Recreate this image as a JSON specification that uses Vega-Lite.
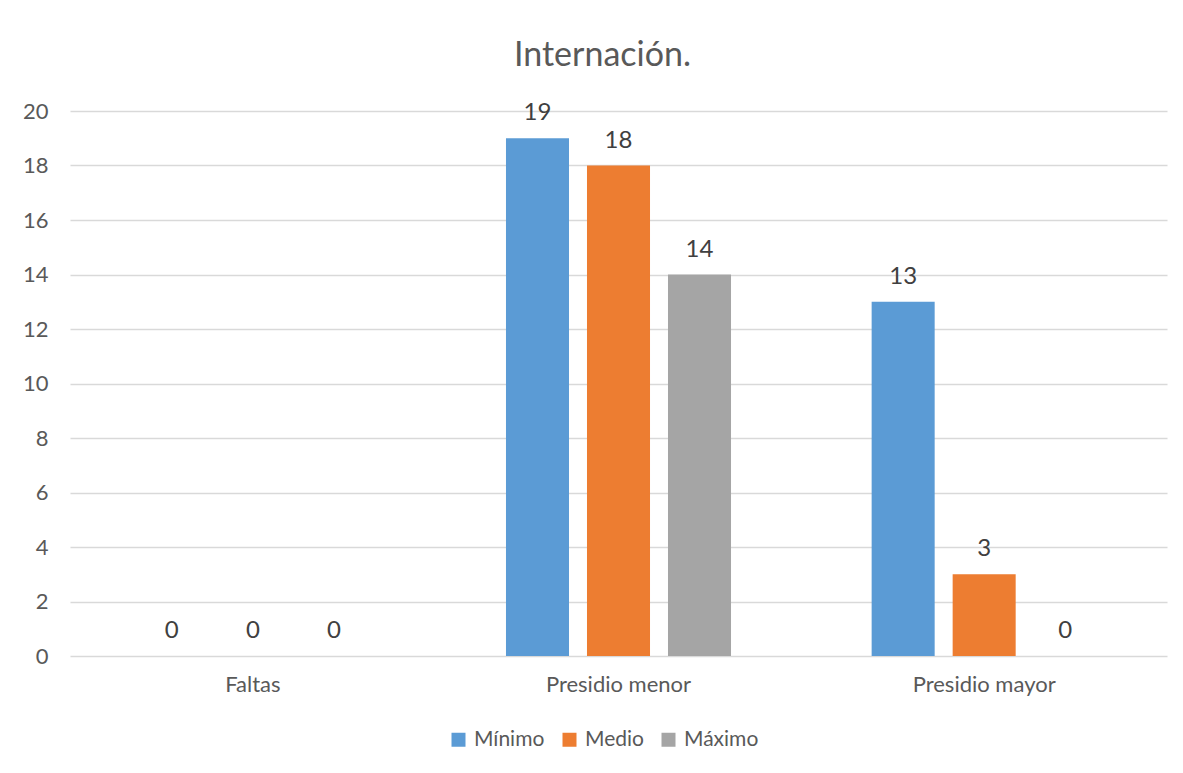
{
  "$schema": "https://vega.github.io/schema/vega-lite/v6.json",
  "width": 1097,
  "height": 545,
  "autosize": {"type": "none"},
  "padding": {"left": 70, "top": 111, "right": 16, "bottom": 117},
  "background": "white",
  "title": {
    "text": "Internación.",
    "fontSize": 34,
    "font": "Lato",
    "fontWeight": "normal",
    "color": "#595959",
    "anchor": "middle",
    "offset": 27,
    "dx": -16
  },
  "config": {
    "font": "Lato",
    "view": {"stroke": null},
    "axis": {"labelFont": "Lato", "labelColor": "#595959", "domain": false, "ticks": false},
    "legend": {"labelFont": "Lato"}
  },
  "data": {
    "values": [
      {"categoria": "Faltas", "serie": "Mínimo", "valor": 0},
      {"categoria": "Faltas", "serie": "Medio", "valor": 0},
      {"categoria": "Faltas", "serie": "Máximo", "valor": 0},
      {"categoria": "Presidio menor", "serie": "Mínimo", "valor": 19},
      {"categoria": "Presidio menor", "serie": "Medio", "valor": 18},
      {"categoria": "Presidio menor", "serie": "Máximo", "valor": 14},
      {"categoria": "Presidio mayor", "serie": "Mínimo", "valor": 13},
      {"categoria": "Presidio mayor", "serie": "Medio", "valor": 3},
      {"categoria": "Presidio mayor", "serie": "Máximo", "valor": 0}
    ]
  },
  "encoding": {
    "x": {
      "field": "categoria",
      "type": "nominal",
      "sort": ["Faltas", "Presidio menor", "Presidio mayor"],
      "scale": {"paddingInner": 0, "paddingOuter": 0},
      "axis": {"title": null, "labelAngle": 0, "labelFontSize": 22, "labelPadding": 18, "grid": false}
    },
    "xOffset": {
      "field": "serie",
      "type": "nominal",
      "sort": ["Mínimo", "Medio", "Máximo"],
      "scale": {"paddingInner": 0.222, "paddingOuter": 0.868}
    },
    "y": {
      "field": "valor",
      "type": "quantitative",
      "scale": {"domain": [0, 20], "nice": false},
      "axis": {
        "title": null,
        "values": [0, 2, 4, 6, 8, 10, 12, 14, 16, 18, 20],
        "labelFontSize": 22,
        "labelPadding": 22,
        "grid": true,
        "gridColor": "#D9D9D9",
        "gridWidth": 1.3
      }
    }
  },
  "layer": [
    {
      "mark": {"type": "bar"},
      "encoding": {
        "color": {
          "field": "serie",
          "type": "nominal",
          "scale": {"domain": ["Mínimo", "Medio", "Máximo"], "range": ["#5B9BD5", "#ED7D31", "#A5A5A5"]},
          "legend": {
            "title": null,
            "orient": "none",
            "legendX": 378,
            "legendY": 618,
            "direction": "horizontal",
            "symbolType": "square",
            "symbolSize": 196,
            "symbolStrokeWidth": 0,
            "labelFontSize": 21,
            "labelColor": "#595959",
            "labelOffset": 5,
            "columnPadding": 14
          }
        }
      }
    },
    {
      "mark": {"type": "text", "baseline": "alphabetic", "dy": -18, "fontSize": 24, "color": "#404040", "font": "Lato"},
      "encoding": {
        "text": {"field": "valor", "type": "quantitative"}
      }
    }
  ]
}
